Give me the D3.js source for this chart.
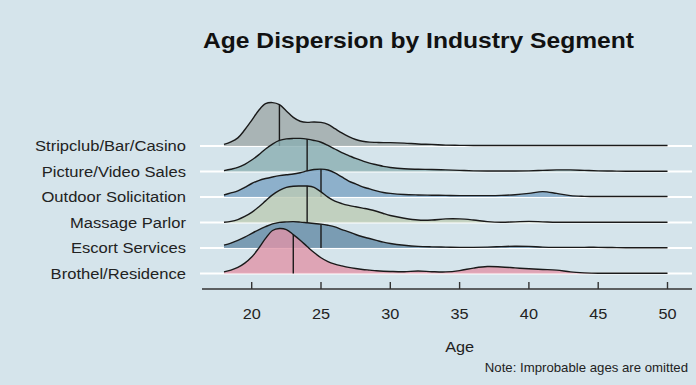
<!DOCTYPE html>
<html><head><meta charset="utf-8">
<script src="https://cdn.jsdelivr.net/npm/d3@7"></script>
<style>
html,body{margin:0;padding:0;background:#d5e4eb;}
text{font-family:"Liberation Sans",Arial,sans-serif;}
</style></head>
<body><svg id="c" width="696" height="385"></svg>
<script>
// ---- data ----
const title = "Age Dispersion by Industry Segment";
const xLabel = "Age";
const note = "Note: Improbable ages are omitted";
const categories = ["Stripclub/Bar/Casino","Picture/Video Sales","Outdoor Solicitation","Massage Parlor","Escort Services","Brothel/Residence"];
const medians = [22, 24, 25, 24, 25, 23];
const xTicks = [20, 25, 30, 35, 40, 45, 50];
const ages = [18,18.5,19,19.5,20,20.5,21,21.5,22,22.5,23,23.5,24,24.5,25,25.5,26,26.5,27,27.5,28,28.5,29,29.5,30,31,32,33,34,35,36,37,38,39,40,41,42,43,44,45,46,47,48,49,50];
// density estimates (relative units)
const stripclub = [0.007,0.018,0.036,0.072,0.114,0.158,0.188,0.193,0.184,0.156,0.127,0.110,0.105,0.107,0.105,0.096,0.077,0.058,0.042,0.029,0.021,0.017,0.016,0.015,0.015,0.013,0.009,0.007,0.004,0.003,0.002,0.002,0.002,0.002,0.002,0.002,0.002,0.002,0.002,0.002,0.002,0.002,0.002,0.002,0.002];
const picture   = [0.004,0.010,0.018,0.032,0.051,0.074,0.100,0.122,0.138,0.145,0.147,0.147,0.144,0.138,0.130,0.116,0.100,0.084,0.071,0.058,0.047,0.037,0.030,0.023,0.018,0.012,0.010,0.009,0.007,0.005,0.003,0.002,0.002,0.002,0.003,0.005,0.007,0.007,0.005,0.003,0.002,0.001,0.001,0.001,0.001];
const outdoor   = [0.009,0.018,0.027,0.043,0.060,0.073,0.082,0.089,0.095,0.099,0.102,0.108,0.116,0.122,0.124,0.120,0.107,0.089,0.071,0.058,0.045,0.036,0.027,0.020,0.016,0.011,0.009,0.008,0.007,0.006,0.006,0.006,0.007,0.010,0.016,0.024,0.016,0.006,0.003,0.002,0.002,0.002,0.002,0.002,0.002];
const massage   = [0.001,0.005,0.013,0.027,0.045,0.069,0.096,0.123,0.143,0.156,0.161,0.162,0.162,0.156,0.136,0.113,0.095,0.084,0.076,0.070,0.064,0.058,0.050,0.040,0.031,0.019,0.011,0.011,0.016,0.016,0.011,0.004,0.001,0.003,0.005,0.003,0.001,0.001,0.001,0.001,0.001,0.001,0.001,0.001,0.001];
const escort    = [0.013,0.022,0.034,0.048,0.065,0.081,0.095,0.107,0.114,0.116,0.117,0.115,0.112,0.109,0.106,0.101,0.094,0.082,0.072,0.060,0.050,0.042,0.034,0.026,0.020,0.012,0.007,0.005,0.004,0.003,0.003,0.004,0.006,0.008,0.007,0.004,0.003,0.003,0.003,0.003,0.002,0.001,0.001,0.001,0.001];
const brothel   = [0.007,0.015,0.027,0.046,0.073,0.112,0.156,0.191,0.200,0.195,0.173,0.148,0.120,0.093,0.070,0.053,0.042,0.034,0.027,0.022,0.018,0.015,0.012,0.010,0.009,0.008,0.011,0.008,0.007,0.013,0.024,0.031,0.029,0.025,0.021,0.018,0.015,0.007,0.003,0.001,0.001,0.001,0.001,0.001,0.001];
const seriesValues = [stripclub, picture, outdoor, massage, escort, brothel];
const fills = ["#9ea7a8","#89aeb2","#7aa3c3","#bccbb4","#638aa5","#e094a8"];

// ---- drawing ----
const svg = d3.select("#c");
const W = 696, H = 385;
svg.append("rect").attr("width",W).attr("height",H).attr("fill","#d5e4eb");

const x = d3.scaleLinear().domain([20,50]).range([251.7,667.5]);
const yBand = d3.scalePoint().domain(categories.slice().reverse()).range([273.5,146]);
const h = d3.scaleLinear().domain([0,0.2]).range([0,45]);

// stretched text helper (reference text is slightly wide)
function stext(sel, tx, ty, sx){
  return sel.attr("x",0).attr("y",0).attr("transform",`translate(${tx},${ty}) scale(${sx},1)`);
}

// gridlines
svg.append("g").selectAll("line").data(categories).join("line")
  .attr("x1",200).attr("x2",692)
  .attr("y1",d=>yBand(d)).attr("y2",d=>yBand(d))
  .attr("stroke","#ffffff").attr("stroke-width",2.2);

// ridges: top first so lower ridges overlap upper
const g = svg.append("g");
const curve = d3.curveCatmullRom.alpha(0.5);
categories.forEach((cat,i)=>{
  const vals = seriesValues[i];
  const base = yBand(cat);
  const pts = ages.map((a,k)=>[a, vals[k]]);
  const area = d3.area().x(d=>x(d[0])).y0(base).y1(d=>Math.min(base, base-h(d[1]))).curve(curve);
  const line = d3.line().x(d=>x(d[0])).y(d=>base-h(d[1])).curve(curve);
  g.append("path").datum(pts).attr("d",area).attr("fill",fills[i]).attr("fill-opacity",0.8);
  const m = medians[i];
  const bi = d3.bisector(d=>d).left(ages, m);
  let dv;
  if (ages[bi]===m) dv = vals[bi];
  else { const t=(m-ages[bi-1])/(ages[bi]-ages[bi-1]); dv = vals[bi-1]+(vals[bi]-vals[bi-1])*t; }
  g.append("line").attr("x1",x(m)).attr("x2",x(m)).attr("y1",base).attr("y2",base-h(dv))
    .attr("stroke","#1a1a1a").attr("stroke-width",1.4);
  g.append("path").datum(pts).attr("d",line).attr("fill","none").attr("stroke","#1a1a1a").attr("stroke-width",1.4);
});

// y labels
svg.append("g").selectAll("text").data(categories).join("text")
  .each(function(d){ stext(d3.select(this), 186, yBand(d)+5, 1.12); })
  .attr("text-anchor","end").attr("font-size",14.8).attr("fill","#222")
  .text(d=>d);

// x axis
const axY = 289;
svg.append("line").attr("x1",202).attr("x2",692).attr("y1",axY).attr("y2",axY)
  .attr("stroke","#333").attr("stroke-width",1.6);
svg.append("g").selectAll("line").data(xTicks).join("line")
  .attr("x1",d=>x(d)).attr("x2",d=>x(d)).attr("y1",axY).attr("y2",axY-7)
  .attr("stroke","#333").attr("stroke-width",1.4);
svg.append("g").selectAll("text").data(xTicks).join("text")
  .each(function(d){ stext(d3.select(this), x(d), 318.5, 1.1); })
  .attr("text-anchor","middle")
  .attr("font-size",14.8).attr("fill","#222").text(d=>d);

stext(svg.append("text"), x(35), 351.5, 1.1).attr("text-anchor","middle")
  .attr("font-size",14.8).attr("fill","#222").text(xLabel);
stext(svg.append("text"), 688, 372, 1.1).attr("text-anchor","end")
  .attr("font-size",12).attr("fill","#222").text(note);
stext(svg.append("text"), 203, 48, 1.1).attr("font-size",22.4)
  .attr("font-weight","bold").attr("fill","#111").text(title);
</script></body></html>
